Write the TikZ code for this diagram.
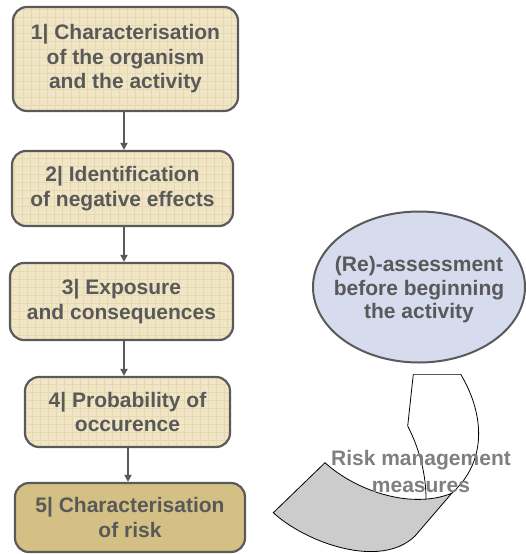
\documentclass[tikz,border=0pt]{standalone}
\usepackage{fontspec}
\setmainfont{Liberation Sans}
\usetikzlibrary{arrows.meta,shapes.geometric}
\definecolor{edge}{HTML}{5A5A5A}
\definecolor{txt}{HTML}{595959}
\definecolor{beige}{HTML}{F0E6C6}
\definecolor{beigegrid}{HTML}{E6D9B2}
\definecolor{tanfill}{HTML}{D4C084}
\definecolor{lav}{HTML}{D6DBEE}
\definecolor{risktxt}{HTML}{7F7F7F}
\definecolor{greyfill}{HTML}{CCCCCC}
\begin{document}
\begin{tikzpicture}[x=1pt,y=-1pt,
  stepbox/.style={draw=edge, line width=2.2pt, rounded corners=14pt, align=center,
    text=txt, font=\bfseries\fontsize{21}{24.5}\selectfont, inner sep=0pt},
  gridbox/.style={stepbox, fill=beige,
    path picture={\draw[beigegrid,line width=0.5pt]
      (path picture bounding box.south west) grid[step=8pt]
      (path picture bounding box.north east);}},
  conn/.style={draw=edge, line width=2pt, -{Triangle[length=7pt,width=7pt]}},
  thinline/.style={draw=black, line width=0.8pt}]
\useasboundingbox (0,0) rectangle (526,554);

% left column of steps
\node[gridbox, minimum width=225pt, minimum height=104pt] (b1) at (125.5,59)
  {1| Characterisation\\of the organism\\and the activity};
\node[gridbox, minimum width=221pt, minimum height=75pt] (b2) at (122.5,188.5)
  {2| Identification\\of negative effects};
\node[gridbox, minimum width=223pt, minimum height=77pt] (b3) at (121.5,301.5)
  {3| Exposure\\and consequences};
\node[gridbox, minimum width=205pt, minimum height=70pt] (b4) at (127.5,412)
  {4| Probability of\\occurence};
\node[stepbox, fill=tanfill, minimum width=230pt, minimum height=69pt] (b5) at (130,517.5)
  {5| Characterisation\\of risk};

\draw[conn] ([xshift=-1.5pt]b1.south) -- ([xshift=-1.5pt]b1.south |- b2.north);
\draw[conn] ([xshift=1.5pt]b2.south) -- ([xshift=1.5pt]b2.south |- b3.north);
\draw[conn] ([xshift=2.5pt]b3.south) -- ([xshift=2.5pt]b3.south |- b4.north);
\draw[conn] ([xshift=0.5pt]b4.south) -- ([xshift=0.5pt]b4.south |- b5.north);

% ellipse
\node[ellipse, draw=edge, line width=2pt, fill=lav, minimum width=212pt,
  minimum height=151pt, inner sep=0pt] (ell) at (419,287) {};
\node[align=center, text=txt, font=\bfseries\fontsize{21}{23.5}\selectfont]
  (elltext) at ([yshift=-3pt]ell.center)
  {(Re)-assessment\\before beginning\\the activity};

% broken curved arrow
\draw[edge, line width=1.4pt] (413.3,374.3) -- (460.7,374.3);
\draw[thinline] (460.7,374.3) .. controls (485,415) and (487,462) .. (451.7,493.3);
\draw[thinline] (413.3,374.3) -- (407.7,426) .. controls (420,450) and (426,475) .. (426,499);
\draw[thinline, fill=greyfill] (325,462.7) -- (273.3,512.7)
  .. controls (305,542) and (380,570) .. (415,536) -- (451.7,493.3)
  .. controls (410,510) and (355,490) .. (325,462.7) -- cycle;

\node[align=center, text=risktxt, font=\bfseries\fontsize{21}{27}\selectfont]
  (risk) at (421,471) {Risk management\\measures};
\end{tikzpicture}
\end{document}
